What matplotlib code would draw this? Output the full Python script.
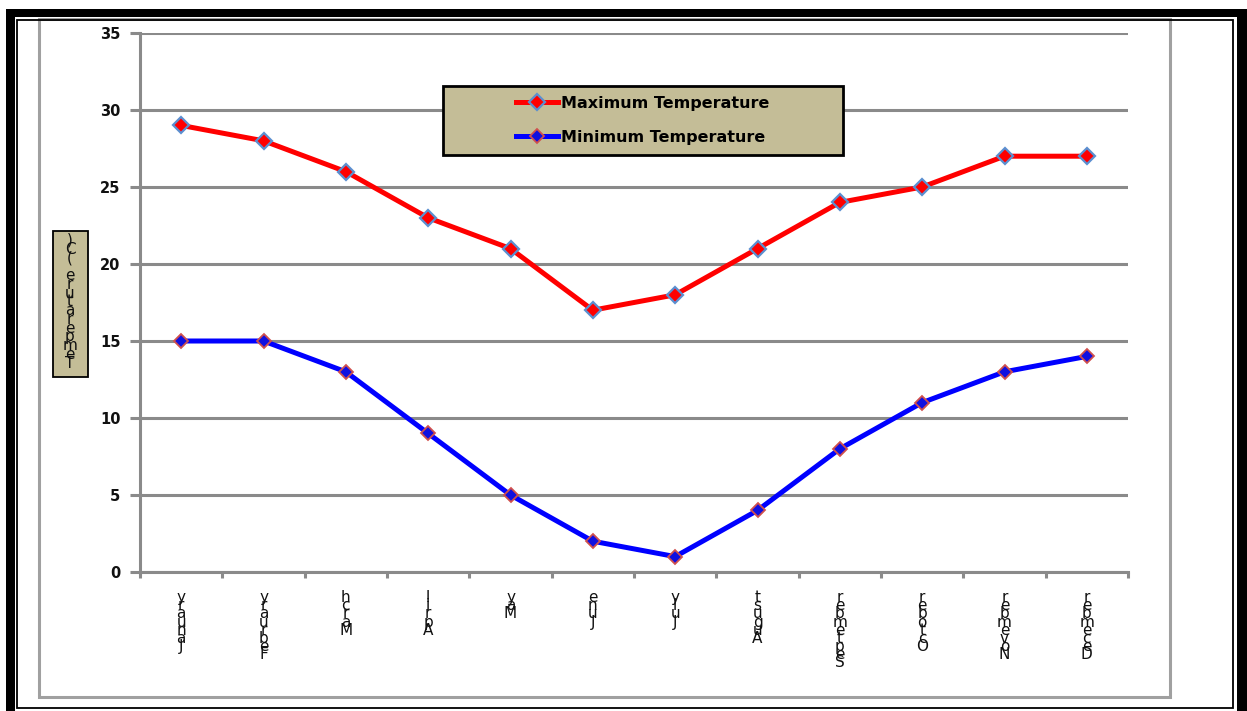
import matplotlib
matplotlib.use("Agg")
import matplotlib.pyplot as plt
from matplotlib.patches import Rectangle

months = ["January", "February", "March", "April", "May", "June", "July",
          "August", "September", "October", "November", "December"]
max_temp = [29, 28, 26, 23, 21, 17, 18, 21, 24, 25, 27, 27]
min_temp = [15, 15, 13, 9, 5, 2, 1, 4, 8, 11, 13, 14]
series_names = ["Maximum Temperature", "Minimum Temperature"]
y_label = "Temperature (C)"
y_ticks = [0, 5, 10, 15, 20, 25, 30, 35]

W, H = 1247, 711
fig = plt.figure(figsize=(W / 100, H / 100), dpi=100)
fig.patch.set_facecolor("white")

def fx(x):
    return x / W

def fy(y):
    return 1 - y / H

# inner grey chart frame
fig.patches.append(Rectangle((fx(39), fy(697)), fx(1170) - fx(39), fy(19) - fy(697),
                             transform=fig.transFigure, facecolor="none", edgecolor="#a0a0a0", lw=2.2))
# outer black frame
fig.patches.append(Rectangle((fx(6), fy(17)), fx(1247) - fx(6), fy(9) - fy(17),
                             transform=fig.transFigure, facecolor="black", edgecolor="none"))
fig.patches.append(Rectangle((fx(6), fy(711)), fx(15) - fx(6), fy(9) - fy(711),
                             transform=fig.transFigure, facecolor="black", edgecolor="none"))
fig.patches.append(Rectangle((fx(1237), fy(711)), fx(1247) - fx(1237), fy(9) - fy(711),
                             transform=fig.transFigure, facecolor="black", edgecolor="none"))
fig.patches.append(Rectangle((fx(17), fy(708)), fx(1233) - fx(17), fy(20) - fy(708),
                             transform=fig.transFigure, facecolor="none", edgecolor="black", lw=1.3))

ax = fig.add_axes([fx(140), fy(572), fx(1128) - fx(140), fy(33) - fy(572)])
ax.set_facecolor("none")

grey = "#8a8a8a"
x = [i + 0.5 for i in range(len(months))]
ax.plot(x, max_temp, color="#ff0000", lw=3.6, marker="D", ms=8, mfc="#ff0000",
        mec="#5b8fd0", mew=1.6, label=series_names[0], zorder=3)
ax.plot(x, min_temp, color="#0000ff", lw=3.6, marker="D", ms=7, mfc="#1010e0",
        mec="#d0504d", mew=1.3, label=series_names[1], zorder=3)

ax.set_xlim(0, 12)
ax.set_ylim(0, 35)
ax.set_yticks(y_ticks)
ax.set_yticklabels([str(v) for v in y_ticks], fontweight="bold", fontsize=10.5,
                   family="DejaVu Sans")
ax.yaxis.grid(True, color=grey, lw=2.2, zorder=0)
ax.set_axisbelow(True)
ax.tick_params(axis="y", length=7, width=2.2, color=grey, pad=7, labelcolor="#111111")

ax.set_xticks(x)
ax.set_xticklabels(["\n".join(reversed(m)) for m in months], fontsize=11,
                   family="DejaVu Sans", color="#111111")
for lab in ax.get_xticklabels():
    lab.set_linespacing(0.43)
    lab.set_verticalalignment("top")
ax.set_xticks(list(range(13)), minor=True)
ax.tick_params(axis="x", which="major", length=0, pad=13)
ax.tick_params(axis="x", which="minor", length=4, width=2.2, color=grey)

for s in ["top", "right"]:
    ax.spines[s].set_visible(False)
for s in ["left", "bottom"]:
    ax.spines[s].set_color(grey)
    ax.spines[s].set_linewidth(2.2)

# legend box
legbox = Rectangle((fx(443), fy(155)), fx(843) - fx(443), fy(86) - fy(155),
                   transform=fig.transFigure, facecolor="#c4bd97",
                   edgecolor="black", lw=2, zorder=5, clip_on=False)
ax.add_patch(legbox)
leg = ax.legend(loc="center", bbox_to_anchor=(fx(643), fy(120.5)),
                bbox_transform=fig.transFigure, frameon=False,
                prop={"weight": "bold", "size": 11.5, "family": "DejaVu Sans"},
                handlelength=2.6, handletextpad=0.2, labelspacing=1.2)
leg.set_zorder(6)

# y-label box
ybox = Rectangle((fx(53), fy(377)), fx(88) - fx(53), fy(231) - fy(377),
                 transform=fig.transFigure, facecolor="#c4bd97",
                 edgecolor="black", lw=1.3, zorder=5)
fig.patches.append(ybox)
t = fig.text(fx(70), fy(233), "\n".join(reversed(y_label)), ha="center", va="top",
             fontsize=11, linespacing=0.48, color="#111111", zorder=6,
             family="DejaVu Sans")
t.set_clip_path(ybox)

fig.savefig("out.png", dpi=100)
